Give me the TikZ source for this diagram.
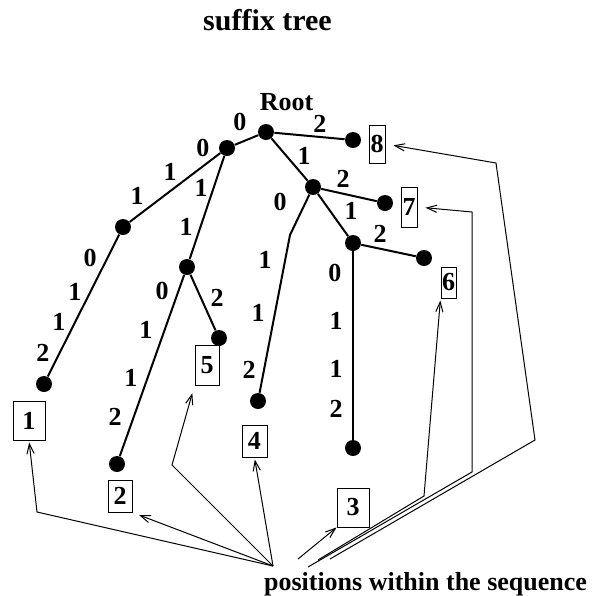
\documentclass[tikz,border=0pt]{standalone}
\usepackage{fontspec}
\setmainfont{Liberation Serif}
\usetikzlibrary{arrows.meta}

\tikzset{
  dot/.style={circle,fill,inner sep=0pt,minimum size=8pt},
  lbl/.style={inner sep=0pt,font=\fontsize{13}{15}\selectfont\bfseries},
  posbox/.style={draw,line width=0.5pt,inner sep=0pt,font=\fontsize{13}{15}\selectfont\bfseries},
  branch/.style={line width=1pt},
  ptr/.style={->,line width=0.5pt},
}

\begin{document}
\begin{tikzpicture}[x=0.5pt,y=-0.5pt]
    \tikzset{>={Straight Barb[length=5pt,width=3.6pt]}}
    \useasboundingbox (0,0) rectangle (593,596);
    \node[lbl,font=\fontsize{15}{18}\selectfont\bfseries,anchor=base] (title) at (267.5,30) {suffix tree};
    \node[lbl,anchor=base] (rootname) at (286.5,110) {Root};

    % the tree
    \node[dot] (root) at (266,132) {};
    \node[dot] (na) at (227,148) {};
    \node[dot] (nb) at (123,227) {};
    \node[dot] (nc) at (187,267) {};
    \node[dot] (nd) at (313,187) {};
    \node[dot] (ne) at (353,243) {};
    \node[dot] (l1) at (44,384) {};
    \node[dot] (l2) at (117,464) {};
    \node[dot] (l3) at (353,448) {};
    \node[dot] (l4) at (258,401) {};
    \node[dot] (l5) at (219,338) {};
    \node[dot] (l6) at (424,258) {};
    \node[dot] (l7) at (385,203) {};
    \node[dot] (l8) at (353,140) {};
    \coordinate (kink4) at (290,235);

    \draw[branch] (root) -- (na);
    \draw[branch] (root) -- (l8);
    \draw[branch] (root) -- (nd);
    \draw[branch] (na) -- (nb);
    \draw[branch] (na) -- (nc);
    \draw[branch] (nb) -- (l1);
    \draw[branch] (nc) -- (l5);
    \draw[branch] (nc) -- (l2);
    \draw[branch] (nd) -- (l7);
    \draw[branch] (nd) -- (ne);
    \draw[branch] (nd) -- (kink4) -- (l4);
    \draw[branch] (ne) -- (l6);
    \draw[branch] (ne) -- (l3);

    % edge symbols
    \node[lbl] (s1) at (240,122) {0};
    \node[lbl] (s2) at (203,148) {0};
    \node[lbl] (s3) at (320,124) {2};
    \node[lbl] (s4) at (304,156) {1};
    \node[lbl] (s5) at (343,179) {2};
    \node[lbl] (s6) at (280,202) {0};
    \node[lbl] (s7) at (351,211) {1};
    \node[lbl] (s8) at (380,234) {2};
    \node[lbl] (s9) at (335,273) {0};
    \node[lbl] (s10) at (336,321) {1};
    \node[lbl] (s11) at (336,369) {1};
    \node[lbl] (s12) at (336,409) {2};
    \node[lbl] (s13) at (170,172) {1};
    \node[lbl] (s14) at (137,196) {1};
    \node[lbl] (s15) at (90,258) {0};
    \node[lbl] (s16) at (75,292) {1};
    \node[lbl] (s17) at (59,322) {1};
    \node[lbl] (s18) at (43,353) {2};
    \node[lbl] (s19) at (201,188) {1};
    \node[lbl] (s20) at (186,227) {1};
    \node[lbl] (s21) at (217,298) {2};
    \node[lbl] (s22) at (162,291) {0};
    \node[lbl] (s23) at (146,330) {1};
    \node[lbl] (s24) at (131,378) {1};
    \node[lbl] (s25) at (115,417) {2};
    \node[lbl] (s26) at (265,260) {1};
    \node[lbl] (s27) at (258,313) {1};
    \node[lbl] (s28) at (249,370) {2};

    % positions
    \node[posbox,minimum width=16pt,minimum height=19.5pt] (p1) at (29,420.5) {1};
    \node[posbox,minimum width=12pt,minimum height=16pt] (p2) at (120,496) {2};
    \node[posbox,minimum width=16pt,minimum height=19.5pt] (p3) at (353,507.5) {3};
    \node[posbox,minimum width=12.5pt,minimum height=16pt] (p4) at (254.5,441) {4};
    \node[posbox,minimum width=12pt,minimum height=20pt] (p5) at (207,365) {5};
    \node[posbox,minimum width=7.5pt,minimum height=15.5pt] (p6) at (448.5,282.5) {6};
    \node[posbox,minimum width=8pt,minimum height=20pt] (p7) at (409,207) {7};
    \node[posbox,minimum width=8pt,minimum height=19pt] (p8) at (377,144) {8};

    \node[lbl,anchor=base] (caption) at (425.5,590) {positions within the sequence};

    \coordinate (src) at (273,566);
    \coordinate (src3) at (298,559);
    \coordinate (src6) at (318,560);
    \coordinate (src7) at (308,567);
    \coordinate (src8) at (330,559);
    \coordinate (k1) at (37,512);
    \coordinate (k5) at (172,465);
    \coordinate (k6) at (424,496);
    \coordinate (k7a) at (472,472);
    \coordinate (k7b) at (472,212);
    \coordinate (k8a) at (535,440);
    \coordinate (k8b) at (496,163);

    \draw[ptr,shorten >=1pt] (src) -- (k1) -- (p1.south);
    \draw[ptr,shorten >=3.5pt] (src) -- (p2.south east);
    \draw[ptr,shorten >=4pt] (src) -- (k5) -- (p5.south west);
    \draw[ptr,shorten >=1pt] (src) -- (p4.south);
    \draw[ptr] (src3) -- (p3.south west);
    \draw[ptr,shorten >=1pt] (src6) -- (k6) -- (p6.south west);
    \draw[ptr,shorten >=4pt] (src7) -- (k7a) -- (k7b) -- (p7.east);
    \draw[ptr,shorten >=4pt] (src8) -- (k8a) -- (k8b) -- (p8.east);
\end{tikzpicture}
\end{document}
